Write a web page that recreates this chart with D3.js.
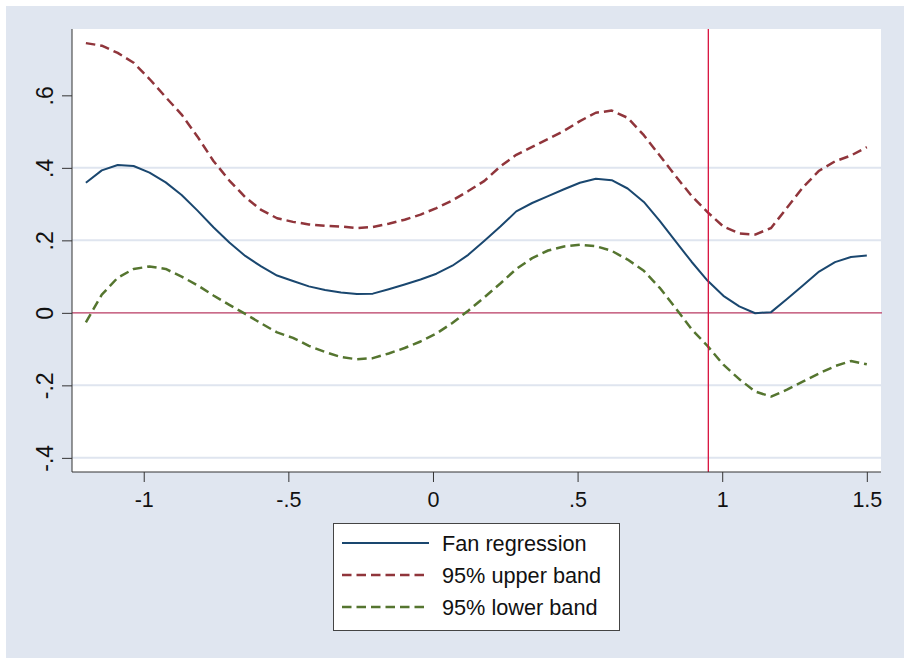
<!DOCTYPE html>
<html>
<head>
<meta charset="utf-8">
<script src="https://cdn.jsdelivr.net/npm/d3@7"></script>
<style>
  body { margin: 0; background: #fff; }
  svg { display: block; font-family: "Liberation Sans", Arial, sans-serif; }
</style>
</head>
<body>
<div id="viz"></div>
<script>
const width = 904;
const height = 658;

// grid the curves were evaluated on
const xValues = [-1.200,-1.145,-1.090,-1.035,-0.980,-0.924,-0.869,-0.814,-0.759,-0.704,
  -0.649,-0.594,-0.539,-0.484,-0.429,-0.373,-0.318,-0.263,-0.208,-0.153,
  -0.098,-0.043,0.012,0.067,0.122,0.178,0.233,0.288,0.343,0.398,
  0.453,0.508,0.563,0.618,0.673,0.729,0.784,0.839,0.894,0.949,
  1.004,1.059,1.114,1.169,1.224,1.280,1.335,1.390,1.445,1.500];

const fanValues = [0.359,0.393,0.408,0.405,0.387,0.360,0.325,0.282,0.236,0.194,
  0.157,0.128,0.103,0.088,0.073,0.063,0.056,0.052,0.053,0.065,
  0.078,0.092,0.108,0.130,0.160,0.199,0.238,0.280,0.303,0.322,
  0.341,0.359,0.370,0.366,0.343,0.306,0.254,0.197,0.141,0.089,
  0.047,0.018,-0.001,0.002,0.038,0.076,0.114,0.140,0.154,0.158];

const upperValues = [0.744,0.737,0.717,0.690,0.645,0.595,0.547,0.486,0.419,0.365,
  0.319,0.284,0.261,0.251,0.244,0.240,0.238,0.234,0.237,0.246,
  0.257,0.271,0.289,0.310,0.336,0.364,0.404,0.436,0.458,0.480,
  0.502,0.529,0.552,0.558,0.538,0.490,0.434,0.377,0.323,0.278,
  0.238,0.219,0.216,0.234,0.290,0.347,0.392,0.418,0.434,0.457];

const lowerValues = [-0.026,0.050,0.097,0.121,0.128,0.121,0.100,0.076,0.048,0.022,
  -0.003,-0.029,-0.054,-0.069,-0.091,-0.108,-0.122,-0.128,-0.125,-0.112,
  -0.097,-0.079,-0.057,-0.028,0.006,0.043,0.081,0.121,0.151,0.172,
  0.183,0.188,0.184,0.171,0.147,0.116,0.069,0.013,-0.045,-0.091,
  -0.143,-0.183,-0.217,-0.231,-0.212,-0.189,-0.167,-0.147,-0.133,-0.142];

const xTicks = [-1, -0.5, 0, 0.5, 1, 1.5];
const yTicks = [-0.4, -0.2, 0, 0.2, 0.4, 0.6];
const yGrid = [-0.4, -0.2, 0.2, 0.4];
const refX = 0.952;
const refY = 0;

const series = [
  { label: 'Fan regression', values: fanValues, color: '#1A476F', dash: null, width: 2 },
  { label: '95% upper band', values: upperValues, color: '#90353B', dash: '9.5,5', width: 2.5 },
  { label: '95% lower band', values: lowerValues, color: '#55752F', dash: '9.5,5', width: 2.5 },
];

const plot = { left: 72, right: 881, top: 29, bottom: 472 };

const svg = d3.select('#viz')
  .append('svg')
  .attr('width', width)
  .attr('height', height);

// graph region + plot region
svg.append('rect')
  .attr('x', 6).attr('y', 6)
  .attr('width', width - 6).attr('height', height - 6)
  .attr('fill', '#E0E6F0');
svg.append('rect')
  .attr('x', plot.left).attr('y', plot.top)
  .attr('width', plot.right - plot.left).attr('height', plot.bottom - plot.top)
  .attr('fill', '#fff');

const x = d3.scaleLinear().domain([-1.248, 1.549]).range([plot.left, plot.right]);
const y = d3.scaleLinear().domain([-0.439, 0.783]).range([plot.bottom, plot.top]);

const fmt = d => String(+d.toFixed(2)).replace(/^(-?)0\./, '$1.');

// grid lines
svg.append('g')
  .selectAll('line')
  .data(yGrid)
  .join('line')
  .attr('x1', plot.left).attr('x2', plot.right)
  .attr('y1', d => y(d)).attr('y2', d => y(d))
  .attr('stroke', '#DFE5EF')
  .attr('stroke-width', 2);

// reference lines
svg.append('line')
  .attr('x1', plot.left).attr('x2', plot.right + 1)
  .attr('y1', y(refY)).attr('y2', y(refY))
  .attr('stroke', '#B83A62')
  .attr('stroke-width', 1.3);

// curves
const line = d3.line()
  .x((d, i) => x(xValues[i]))
  .y(d => y(d));

svg.append('g')
  .selectAll('path')
  .data(series)
  .join('path')
  .attr('d', d => line(d.values))
  .attr('fill', 'none')
  .attr('stroke', d => d.color)
  .attr('stroke-width', d => d.width)
  .attr('stroke-dasharray', d => d.dash)
  .attr('stroke-linejoin', 'round');

svg.append('line')
  .attr('x1', x(refX)).attr('x2', x(refX))
  .attr('y1', plot.top).attr('y2', plot.bottom)
  .attr('stroke', '#D8123E')
  .attr('stroke-width', 1.3);

// axes
const yAxis = svg.append('g')
  .attr('transform', `translate(${plot.left},0)`)
  .call(d3.axisLeft(y).tickValues(yTicks).tickFormat(fmt).tickSize(10).tickSizeOuter(0));
yAxis.select('.domain').attr('stroke', '#333').attr('d', `M0,${plot.top}V${plot.bottom}`);
yAxis.selectAll('.tick line').attr('stroke', '#333');
yAxis.selectAll('.tick text')
  .attr('x', null).attr('dy', null)
  .attr('text-anchor', 'middle')
  .attr('transform', 'translate(-19,0) rotate(-90)')
  .attr('fill', '#111')
  .style('font-size', '23px');

const xAxis = svg.append('g')
  .attr('transform', `translate(0,${plot.bottom})`)
  .call(d3.axisBottom(x).tickValues(xTicks).tickFormat(fmt).tickSize(10).tickSizeOuter(0));
xAxis.select('.domain').attr('stroke', '#333').attr('d', `M${plot.left},0H${plot.right}`);
xAxis.selectAll('.tick line').attr('stroke', '#333');
xAxis.selectAll('.tick text')
  .attr('y', 35).attr('dy', null)
  .attr('fill', '#111')
  .style('font-size', '21.5px');

// legend
const legend = svg.append('g');
legend.append('rect')
  .attr('x', 333.5).attr('y', 523.5)
  .attr('width', 286).attr('height', 107)
  .attr('fill', '#fff')
  .attr('stroke', '#444');

const rows = legend.selectAll('g')
  .data(series)
  .join('g')
  .attr('transform', (d, i) => `translate(0,${543 + i * 32})`);
rows.append('line')
  .attr('x1', 342).attr('x2', 429)
  .attr('stroke', d => d.color)
  .attr('stroke-width', d => d.width)
  .attr('stroke-dasharray', d => d.dash);
rows.append('text')
  .attr('x', 442).attr('y', 7.5)
  .attr('fill', '#111')
  .style('font-size', '21.7px')
  .text(d => d.label);
</script>
</body>
</html>
